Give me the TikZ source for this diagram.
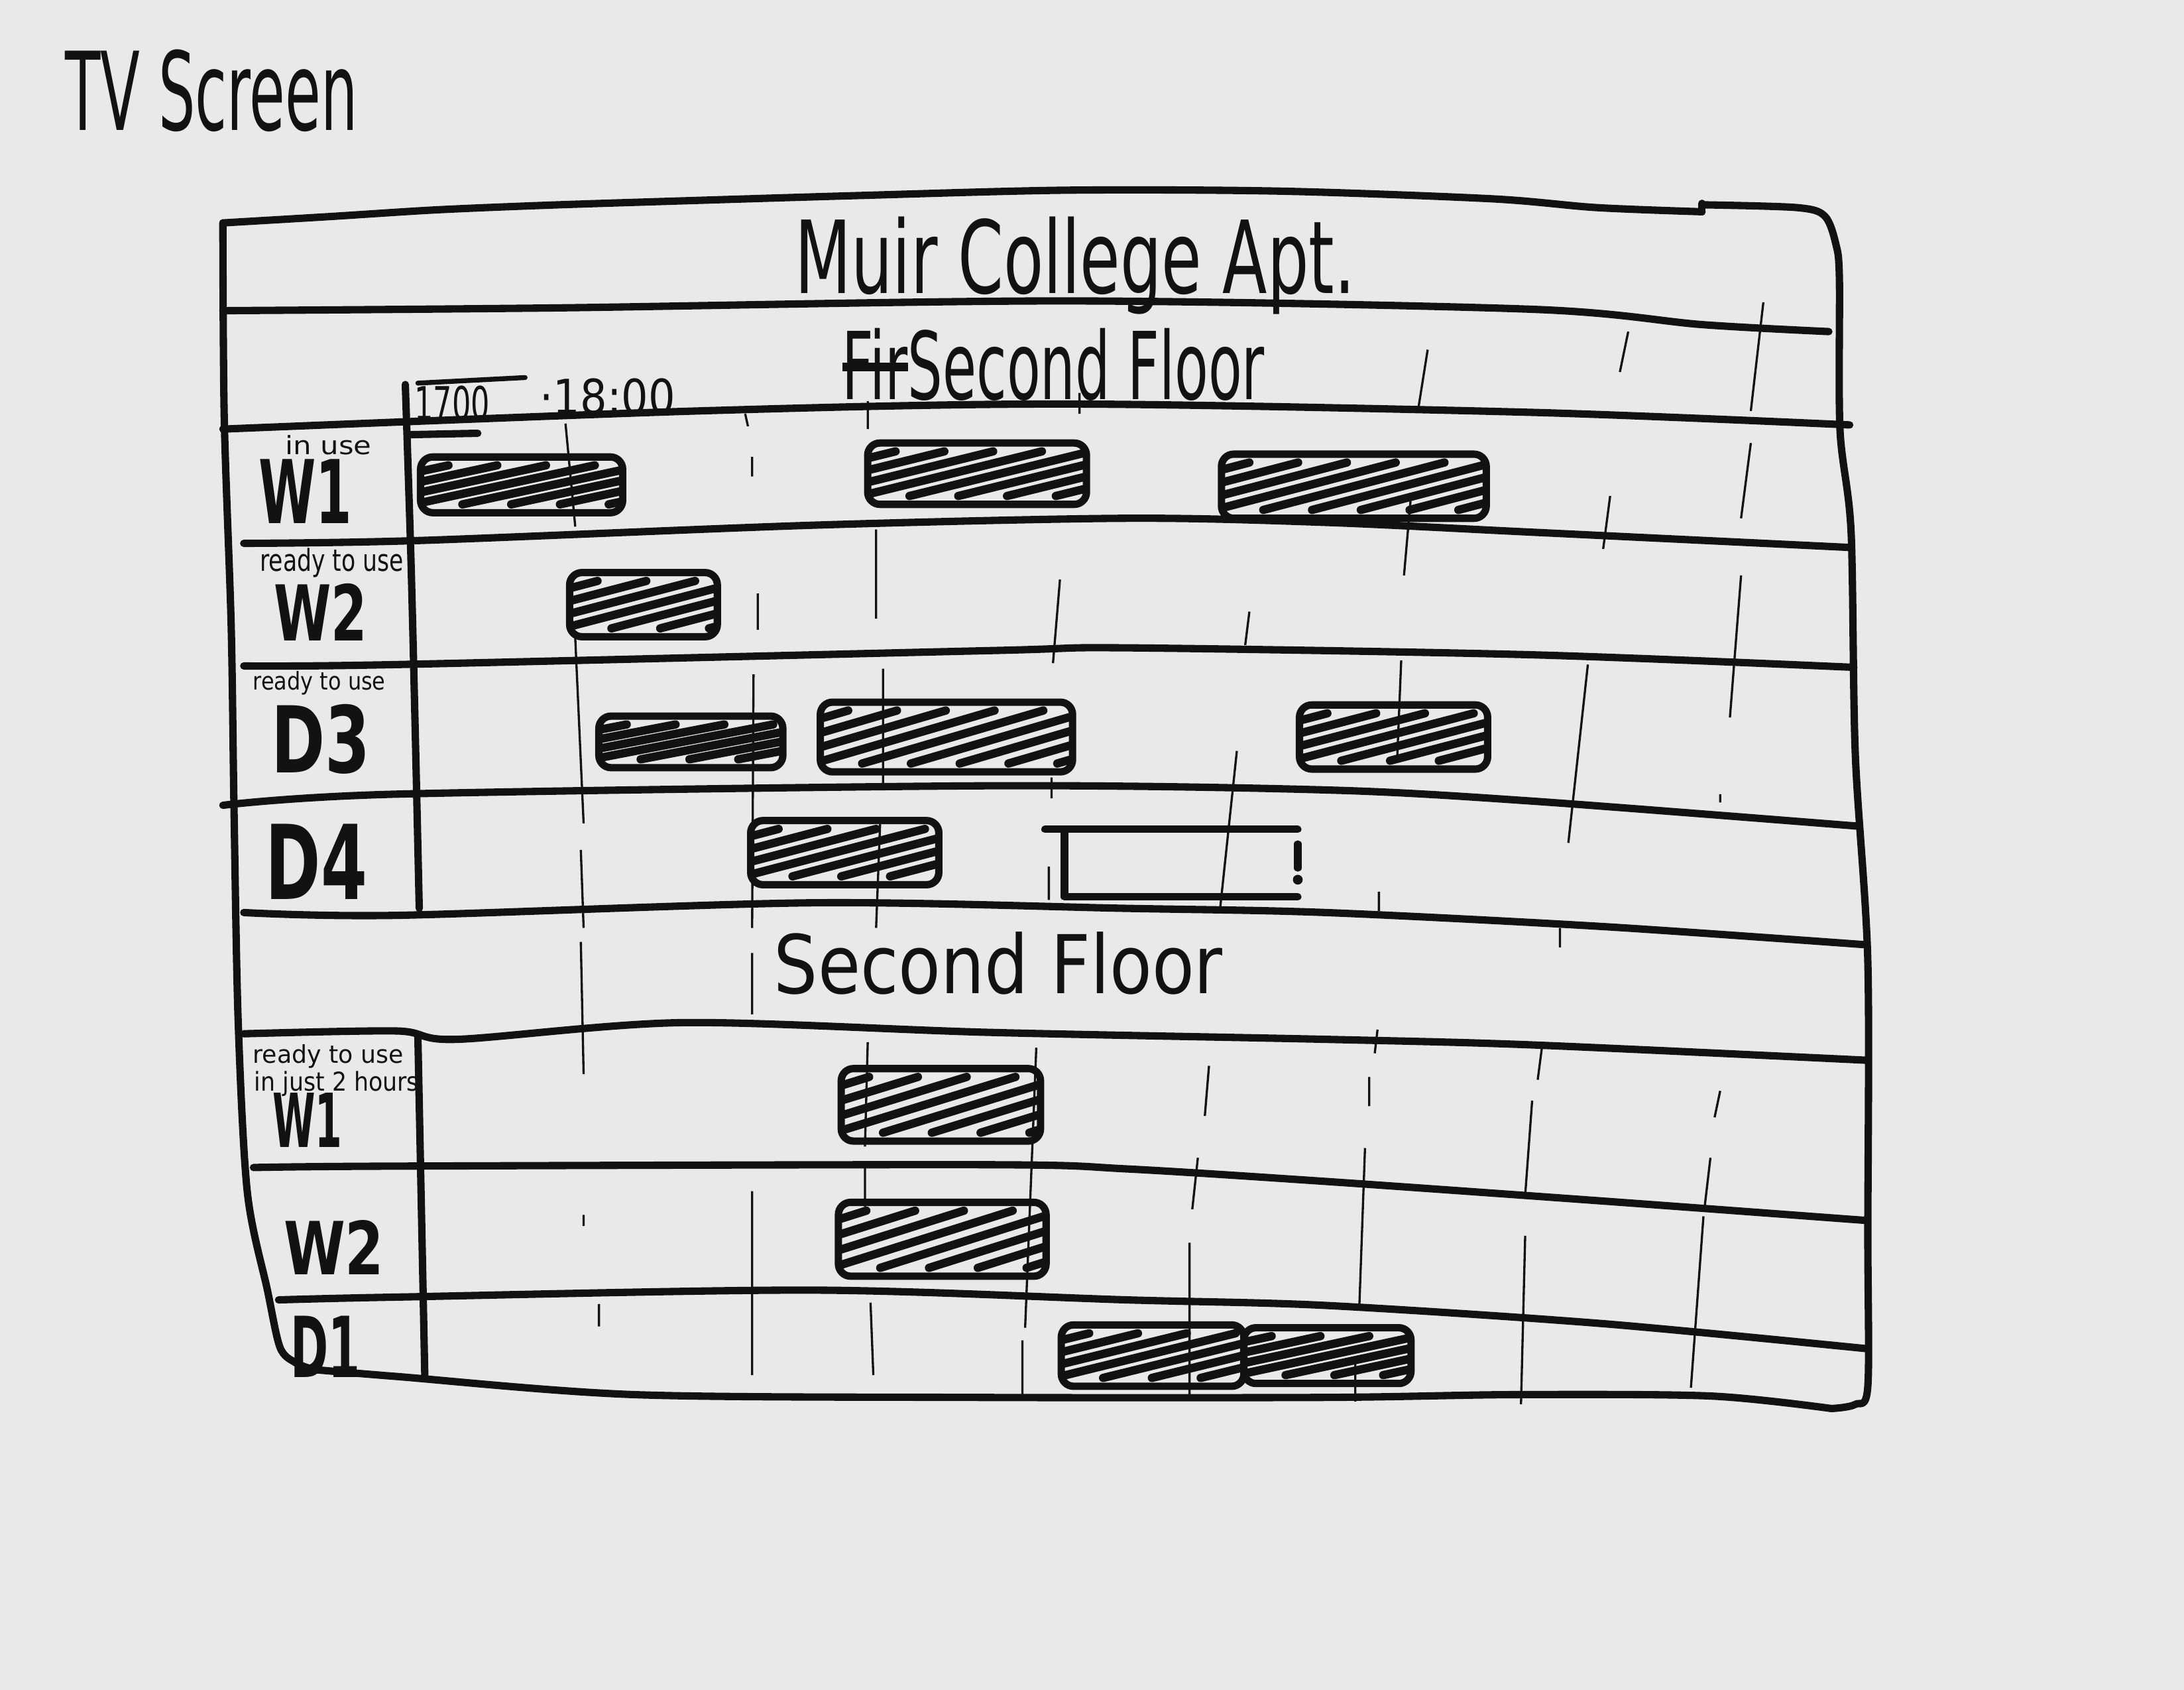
\documentclass[tikz,border=0pt]{standalone}
\usepackage{fontspec}
\setmainfont{DejaVu Sans}
\usepackage{graphicx}
\definecolor{paper}{RGB}{233,233,233}
\definecolor{ink}{RGB}{18,18,18}
\newcommand{\fitt}[3]{\resizebox*{#1cm}{#2cm}{#3}}
\newcommand{\strk}[1]{\setbox0\hbox{#1}\rlap{\rule[0.4\ht0]{\wd0}{0.09em}}\box0}
\tikzset{
  rule/.style={draw=ink, line width=1.5pt, line cap=round, line join=round},
  gridline/.style={draw=ink, line width=0.45pt},
  lbl/.style={inner sep=0pt, anchor=north west, text=ink},
  bar/.style={draw=ink, line width=1.5pt, rounded corners=2.5pt, inner sep=0pt},
  hatched/.style={bar, path picture={
      \foreach \t in {0.2,0.55,...,4.0}{
        \draw[ink, line width=1.7pt, line cap=round]
          ([xshift=\t cm-1.3cm, yshift=0.06cm]path picture bounding box.south west) --
          ([xshift=\t cm, yshift=-0.06cm]path picture bounding box.north west);
      }}},
}
\begin{document}
\begin{tikzpicture}[x=0.01cm, y=-0.01cm]
\fill[paper] (0,0) rectangle (1568,1213);
\useasboundingbox (0,0) rectangle (1568,1213);

% ---- thin time grid lines
\draw[gridline] (406,304)--(413,378) (413,458)--(419,591) (417,610)--(419,666)
  (417,676)--(419,771) (419,872)--(419,880) (430,936)--(430,952);
\draw[gridline] (535,297)--(537,306) (540,328)--(540,342) (544,426)--(544,452)
  (541,484)--(540,666) (540,684)--(540,728) (540,855)--(540,987);
\draw[gridline] (623,288)--(623,308) (629,380)--(629,444) (634,480)--(634,562)
  (632,588)--(629,666) (623,748)--(621,823) (621,837)--(621,866) (625,935)--(627,987);
\draw[gridline] (775,282)--(775,297) (761,416)--(756,476) (755,558)--(755,573)
  (753,622)--(753,646) (744,752)--(736,953) (734,962)--(734,1001);
\draw[gridline] (897,439)--(894,463) (888,539)--(876,652) (868,765)--(865,801)
  (860,831)--(856,868) (854,892)--(854,1004);
\draw[gridline] (1025,251)--(1018,295) (1013,356)--(1008,413) (1006,474)--(1003,547)
  (990,640)--(990,654) (989,739)--(987,756) (983,773)--(983,794) (980,824)--(976,936)
  (973,974)--(973,1006);
\draw[gridline] (1169,238)--(1163,267) (1156,356)--(1151,394) (1140,477)--(1126,605)
  (1120,666)--(1120,680) (1107,752)--(1104,775) (1100,790)--(1095,858) (1095,887)--(1092,1008);
\draw[gridline] (1266,217)--(1257,295) (1257,318)--(1250,372) (1250,413)--(1242,515)
  (1235,570)--(1235,576) (1235,783)--(1231,802) (1228,831)--(1224,865) (1223,873)--(1214,996);

% ---- outer frame
\draw[rule] plot[smooth] coordinates {(160,160)(236,155.5)(312,150.7)(387.5,147.5)(463.5,145)
  (615,140.4)(767,136.5)(919,137.2)(1071,142.7)(1146,149)(1222,152)};
\draw[rule] (1222,152)--(1222,146);
\draw[rule] plot[smooth] coordinates {(1222,147)(1290,149)(1310,155)(1318,175)(1320.6,200)
  (1321,308)(1329,382)(1332,541)(1341,690)(1341,885)(1341,995)(1332,1008)(1315,1011)};
\draw[rule] plot[smooth] coordinates {(225,983)(285,988)(455,1001)(700,1003)(952,1003)
  (1088,1001)(1228,1002)(1315,1011)};
\draw[rule] plot[smooth] coordinates {(160,160)(161,300)(166,450)(168,580)(171,733)
  (177.6,856)(192,926)(201,967)(212,978)(225,983)};

% ---- row lines
\draw[rule] plot[smooth] coordinates {(160,223)(400,221)(767,216)(1100,222)(1222,233)(1313,238)};
\draw[rule] plot[smooth] coordinates {(160,308)(500,295)(767,290)(1100,296)(1328,305)};
\draw[rule] plot[smooth] coordinates {(175,390)(300,388)(583,377)(809,372)(952,375)(1100,382)(1329,393)};
\draw[rule] plot[smooth] coordinates {(175,478)(285,477)(710,467)(809,465)(1100,470)(1331,479)};
\draw[rule] plot[smooth] coordinates {(160,578)(285,570)(710,564)(952,567)(1100,575)(1334,593)};
\draw[rule] plot[smooth] coordinates {(175,655)(285,657)(583,648)(809,652)(952,655)(1150,665)(1338,678)};
\draw[rule] plot[smooth] coordinates {(175,742)(285,740)(328,746)(490,734)(710,741)(952,746)(1100,750)(1340,761)};
\draw[rule] plot[smooth] coordinates {(182,838)(285,837)(710,836)(809,839)(952,848)(1150,862)(1340,876)};
\draw[rule] plot[smooth] coordinates {(200,933)(285,931)(583,926)(809,933)(952,937)(1150,950)(1340,968)};

% ---- label column dividers
\draw[rule] plot[smooth] coordinates {(291,276)(295,400)(298,520)(301,652)};
\draw[rule] (300,743) -- (305,988);
\draw[rule, line width=1pt] (300,275) -- (377,271);
\draw[rule] (294,312) -- (343,311);

% ---- texts
\node[lbl] (tv) at (46,35) {\fitt{2.10}{0.59}{TV Screen}};
\node[lbl] (title) at (570,155) {\fitt{4.02}{0.70}{Muir College Apt.}};
\node[lbl] (floor1) at (604,235) {\fitt{3.03}{0.52}{\strk{Fir}Second Floor}};
\node[lbl] (t17) at (297,276) {\fitt{0.54}{0.25}{1700}};
\node[lbl] (t18) at (387,271) {\fitt{0.97}{0.26}{·18:00}};
\node[lbl] (inuse) at (204,312) {\fitt{0.62}{0.14}{in use}};
\node[lbl] (w1a) at (185,329) {\fitt{0.67}{0.46}{\bfseries W1}};
\node[lbl] (rdy1) at (186,393) {\fitt{1.03}{0.21}{ready to use}};
\node[lbl] (w2a) at (196,418) {\fitt{0.67}{0.41}{\bfseries W2}};
\node[lbl] (rdy2) at (181,481) {\fitt{0.95}{0.17}{ready to use}};
\node[lbl] (d3) at (194,505) {\fitt{0.71}{0.50}{\bfseries D3}};
\node[lbl] (d4) at (190,591) {\fitt{0.73}{0.54}{\bfseries D4}};
\node[lbl] (floor2) at (555,668) {\fitt{3.22}{0.45}{Second Floor}};
\node[lbl] (rdy3) at (181,749) {\fitt{1.08}{0.17}{ready to use}};
\node[lbl] (just) at (182,768) {\fitt{1.18}{0.18}{in just 2 hours}};
\node[lbl] (w1b) at (195,784) {\fitt{0.50}{0.39}{\bfseries W1}};
\node[lbl] (w2b) at (203,875) {\fitt{0.72}{0.39}{\bfseries W2}};
\node[lbl] (d1) at (208,944) {\fitt{0.50}{0.44}{\bfseries D1}};

% ---- booking bars
\node[hatched, minimum width=1.45cm, minimum height=0.40cm] (b1) at (374.5,348) {};
\node[hatched, minimum width=1.57cm, minimum height=0.44cm] (b2) at (701.5,340) {};
\node[hatched, minimum width=1.90cm, minimum height=0.46cm] (b3) at (972,349) {};
\node[hatched, minimum width=1.06cm, minimum height=0.46cm] (b4) at (462,434) {};
\node[hatched, minimum width=1.32cm, minimum height=0.37cm] (b5) at (496,532.5) {};
\node[hatched, minimum width=1.81cm, minimum height=0.50cm] (b6) at (679.5,529) {};
\node[hatched, minimum width=1.35cm, minimum height=0.46cm] (b7) at (1000.5,529) {};
\node[hatched, minimum width=1.35cm, minimum height=0.46cm] (b8) at (606.5,612) {};
\node[inner sep=0pt, minimum width=1.66cm, minimum height=0.47cm] (b9) at (848,619.5) {};
\draw[rule] ([xshift=-4pt]b9.north west) -- (b9.north east);
\draw[rule] (b9.north west) -- (b9.south west) -- (b9.south east);
\draw[rule] ([yshift=-3pt]b9.north east) -- ([yshift=-1pt]b9.east);
\fill[ink] ([yshift=3.5pt]b9.south east) circle (1pt);
\node[hatched, minimum width=1.43cm, minimum height=0.52cm] (b10) at (675.5,793) {};
\node[hatched, minimum width=1.49cm, minimum height=0.53cm] (b11) at (676.5,889.5) {};
\node[hatched, minimum width=1.31cm, minimum height=0.44cm] (b12) at (827.5,973) {};
\node[hatched, minimum width=1.20cm, minimum height=0.40cm] (b13) at (953,973) {};
\end{tikzpicture}
\end{document}
